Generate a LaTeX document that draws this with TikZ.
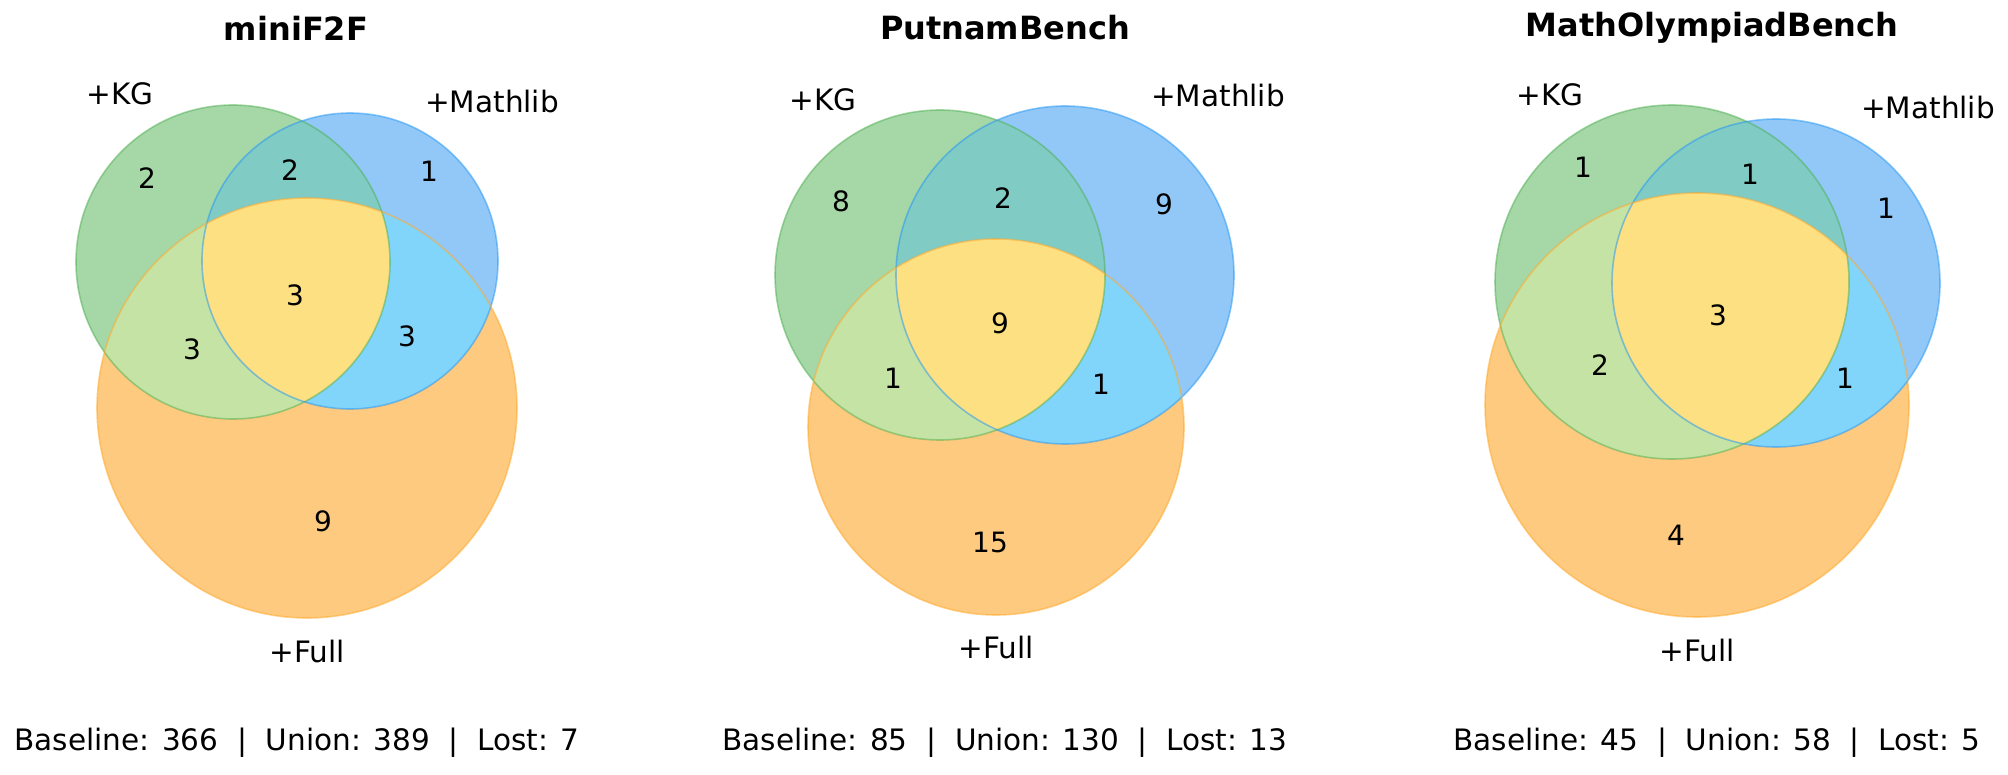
\documentclass[tikz,border=0pt]{standalone}
\usepackage{fontspec}
\setmainfont{DejaVu Sans}
\definecolor{cg}{RGB}{76,175,80}
\definecolor{cb}{RGB}{33,150,243}
\definecolor{co}{RGB}{255,167,38}
\definecolor{rg}{RGB}{165,215,167}
\definecolor{rb}{RGB}{146,200,248}
\definecolor{ro}{RGB}{254,202,128}
\definecolor{rgb}{RGB}{128,203,196}
\definecolor{rgo}{RGB}{197,227,164}
\definecolor{rbo}{RGB}{129,212,250}
\definecolor{rall}{RGB}{253,224,130}
\newcommand{\venn}[6]{%
  \fill[rg] (#1) circle (#2); \fill[rb] (#3) circle (#4); \fill[ro] (#5) circle (#6);
  \begin{scope}\clip (#1) circle (#2); \fill[rgb] (#3) circle (#4); \fill[rgo] (#5) circle (#6);\end{scope}
  \begin{scope}\clip (#3) circle (#4); \fill[rbo] (#5) circle (#6);\end{scope}
  \begin{scope}\clip (#1) circle (#2); \clip (#3) circle (#4); \fill[rall] (#5) circle (#6);\end{scope}
  \draw[eg] (#1) circle (#2); \draw[eb] (#3) circle (#4); \draw[eo] (#5) circle (#6);}
\begin{document}
\begin{tikzpicture}[x=1pt,y=-1pt,
  eg/.style={draw=cg,draw opacity=0.5,line width=1.6pt},
  eb/.style={draw=cb,draw opacity=0.5,line width=1.6pt},
  eo/.style={draw=co,draw opacity=0.5,line width=1.6pt},
  lab/.style={font=\fontsize{29.5}{34}\selectfont},
  num/.style={font=\fontsize{28}{32}\selectfont},
  ttl/.style={font=\fontsize{32}{38}\selectfont\bfseries}]
\useasboundingbox (0,0) rectangle (2008,775);
% miniF2F
\venn{233,262}{157}{350,261}{148}{307,408}{210}
\node[ttl] (t1) at (296,28) {miniF2F};
\node[lab] (k1) at (120,94) {+KG};
\node[lab] (m1) at (492,102) {+Mathlib};
\node[lab] (f1) at (307,651) {+Full};
\node[num] (a1) at (147,178) {2};
\node[num] (b1) at (290,170) {2};
\node[num] (c1) at (429,171) {1};
\node[num] (d1) at (295,295) {3};
\node[num] (e1) at (192,349) {3};
\node[num] (g1) at (407,336) {3};
\node[num] (h1) at (323,521) {9};
\node[lab] (s1) at (297,743) {Baseline: 366\ \ |\ \ Union: 389\ \ |\ \ Lost: 7};
% PutnamBench
\venn{940,275}{165}{1065,275}{169}{996,427}{188}
\node[ttl] (t2) at (1005,28) {PutnamBench};
\node[lab] (k2) at (823,100) {+KG};
\node[lab] (m2) at (1218,96) {+Mathlib};
\node[lab] (f2) at (996,647) {+Full};
\node[num] (a2) at (841,201) {8};
\node[num] (b2) at (1003,198) {2};
\node[num] (c2) at (1164,204) {9};
\node[num] (d2) at (1000,323) {9};
\node[num] (e2) at (893,378) {1};
\node[num] (g2) at (1101,384) {1};
\node[num] (h2) at (990,542) {15};
\node[lab] (s2) at (1005,743) {Baseline: 85\ \ |\ \ Union: 130\ \ |\ \ Lost: 13};
% MathOlympiadBench
\venn{1672,282}{177}{1776,283}{164}{1697,405}{212}
\node[ttl] (t3) at (1712,28) {MathOlympiadBench};
\node[lab] (k3) at (1550,95) {+KG};
\node[lab] (m3) at (1928,108) {+Mathlib};
\node[lab] (f3) at (1697,650) {+Full};
\node[num] (a3) at (1583,167) {1};
\node[num] (b3) at (1750,174) {1};
\node[num] (c3) at (1886,208) {1};
\node[num] (d3) at (1718,315) {3};
\node[num] (e3) at (1600,365) {2};
\node[num] (g3) at (1845,378) {1};
\node[num] (h3) at (1676,535) {4};
\node[lab] (s3) at (1717,743) {Baseline: 45\ \ |\ \ Union: 58\ \ |\ \ Lost: 5};
\end{tikzpicture}
\end{document}
